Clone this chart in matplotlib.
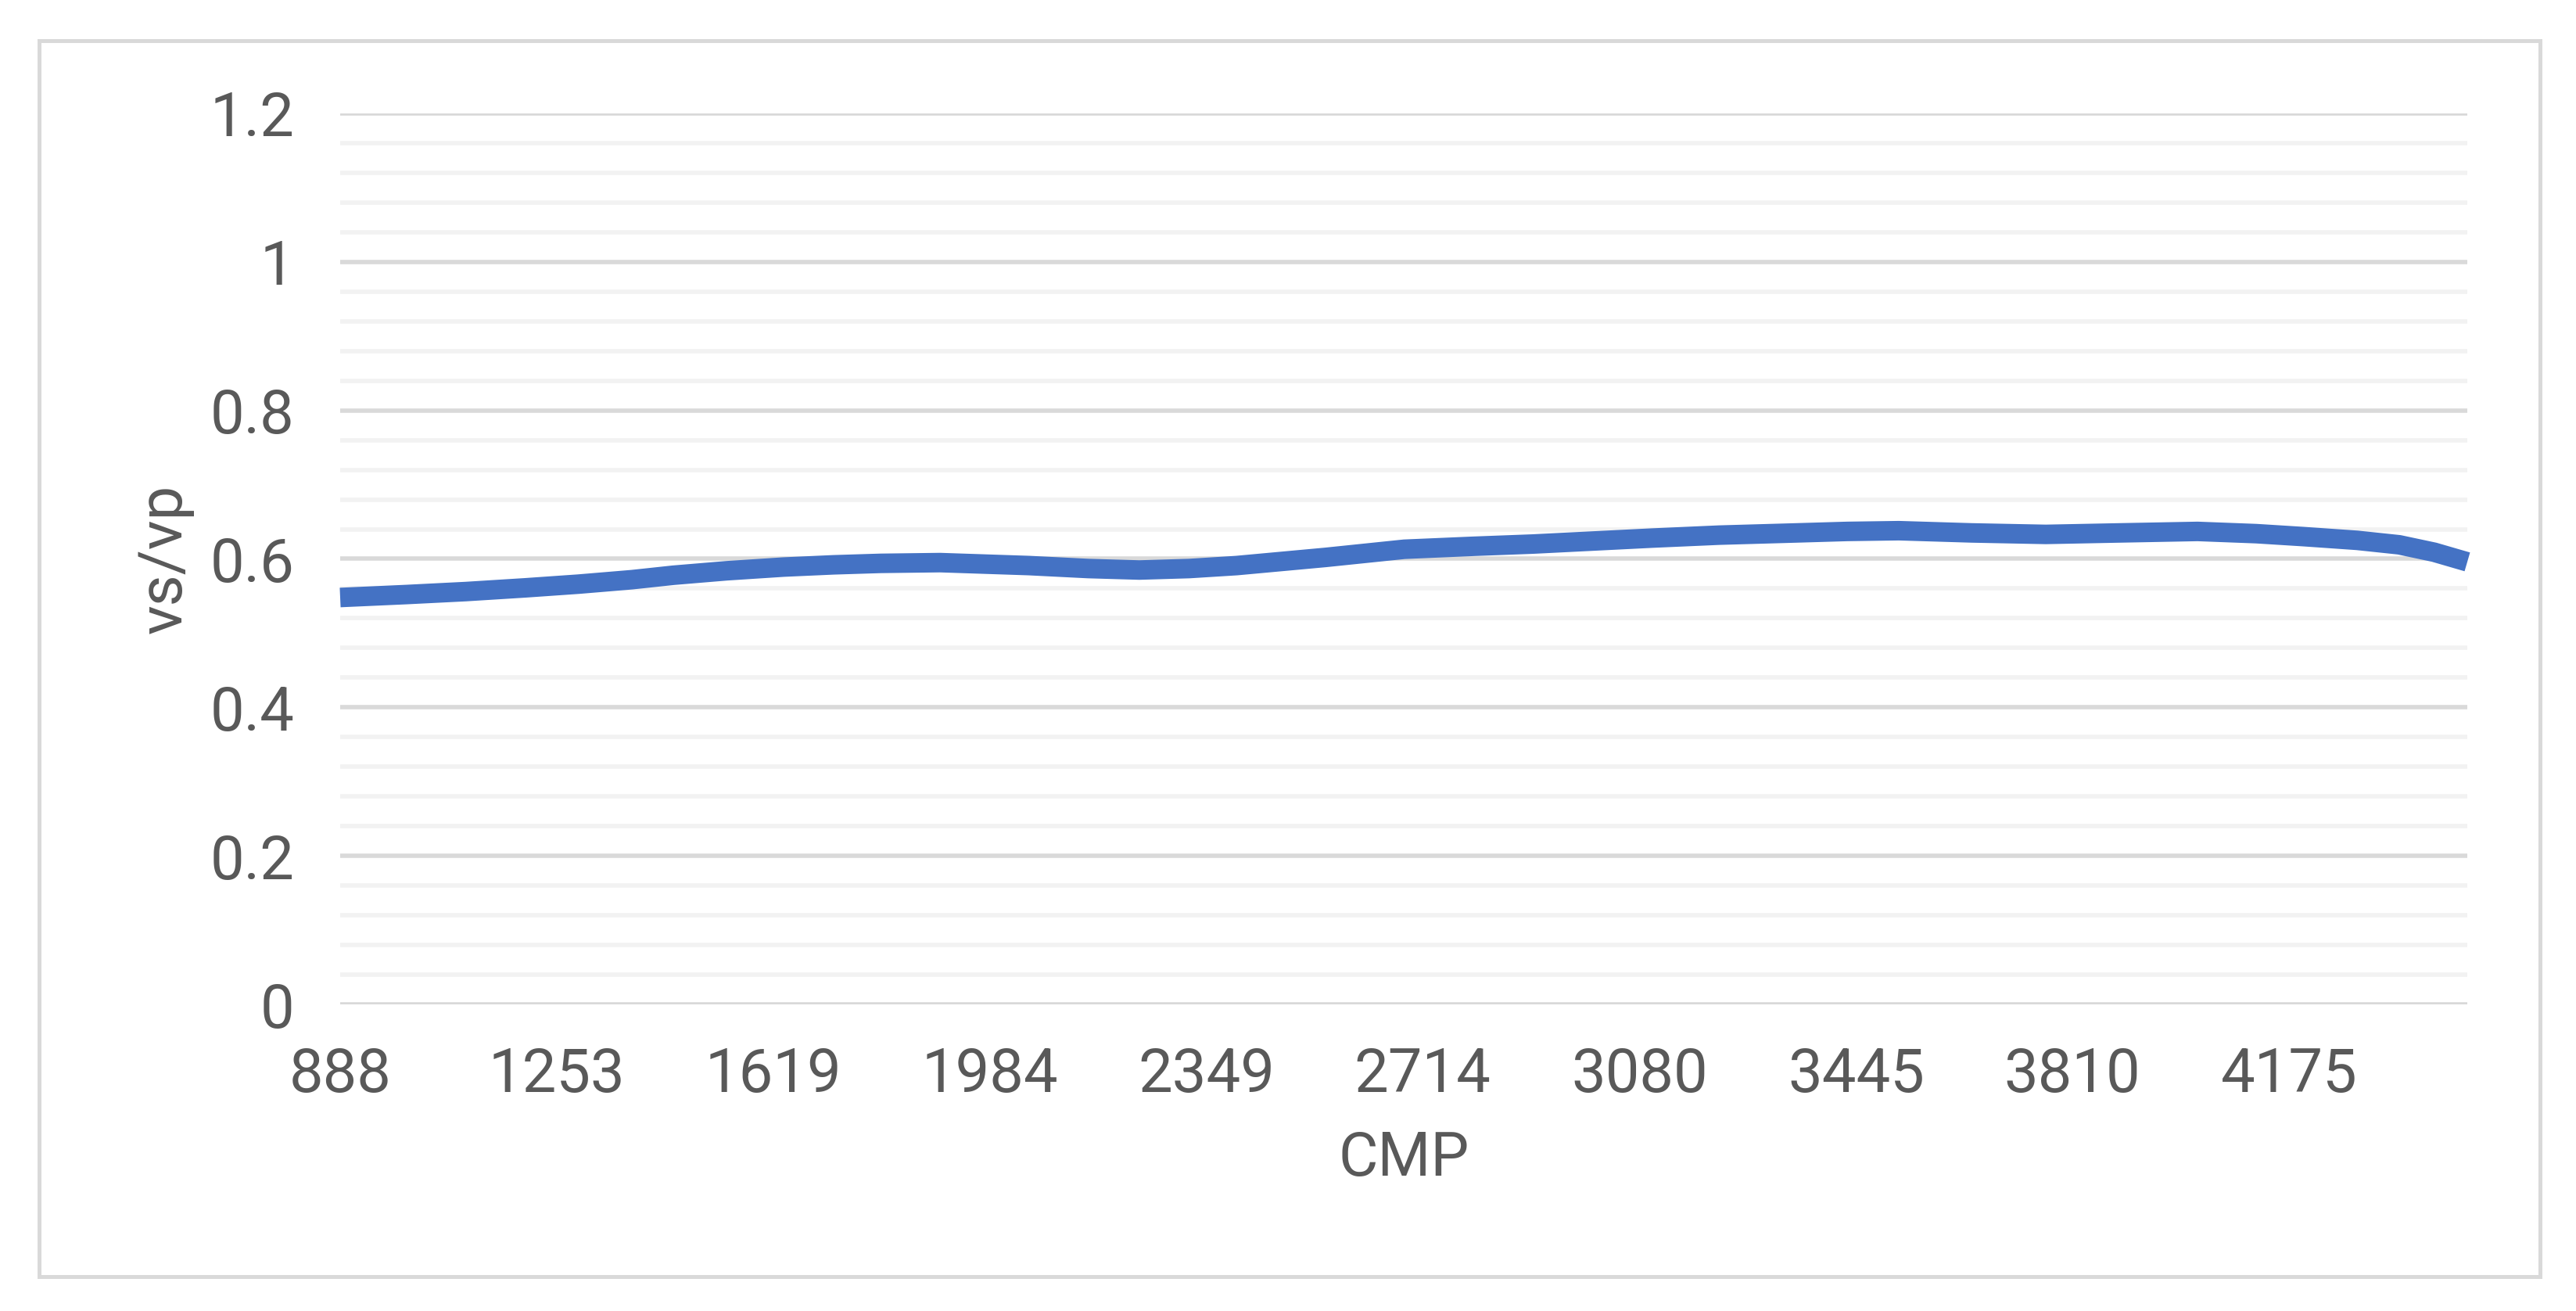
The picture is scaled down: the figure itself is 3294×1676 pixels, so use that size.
import matplotlib
matplotlib.use("Agg")
import matplotlib.pyplot as plt
from matplotlib.patches import Rectangle
from matplotlib.ticker import MultipleLocator, FixedLocator

# ---- data ----
cmp_vals = [888, 1000, 1100, 1200, 1290, 1380, 1450, 1540, 1636, 1720, 1800, 1900,
            2050, 2150, 2236, 2320, 2400, 2550, 2683, 2800, 2900, 3000, 3100, 3214,
            3345, 3430, 3517, 3640, 3765, 3890, 4021, 4120, 4200, 4290, 4361, 4420, 4476]
vs_vp = [0.548, 0.552, 0.556, 0.561, 0.566, 0.572, 0.578, 0.584, 0.589, 0.592,
         0.594, 0.595, 0.591, 0.587, 0.585, 0.587, 0.591, 0.602, 0.613, 0.617,
         0.620, 0.624, 0.628, 0.632, 0.635, 0.637, 0.638, 0.635, 0.633, 0.635,
         0.637, 0.634, 0.630, 0.625, 0.619, 0.609, 0.596]
xtick_labels = [888, 1253, 1619, 1984, 2349, 2714, 3080, 3445, 3810, 4175]
ytick_vals = [0, 0.2, 0.4, 0.6, 0.8, 1.0, 1.2]
ytick_labels = ["0", "0.2", "0.4", "0.6", "0.8", "1", "1.2"]

plt.rcParams["font.family"] = ["Roboto", "Liberation Sans", "DejaVu Sans"]

W, H, DPI = 3294, 1676, 200
fig = plt.figure(figsize=(W / DPI, H / DPI), dpi=DPI)
fig.patch.set_facecolor("white")

# outer chart border
fig.patches.append(Rectangle((50 / W, 1 - 1632 / H), (3248 - 50) / W, (1632 - 52) / H,
                             transform=fig.transFigure, fill=False,
                             edgecolor="#D9D9D9", linewidth=1.8, zorder=0))

ax = fig.add_axes([435 / W, 1 - 1284 / H, (3155 - 435) / W, (1284 - 145) / H])
ax.set_xlim(888, 4476)
ax.set_ylim(0, 1.2)

ax.yaxis.set_major_locator(FixedLocator(ytick_vals))
ax.yaxis.set_minor_locator(MultipleLocator(0.04))
ax.set_yticklabels(ytick_labels)
ax.xaxis.set_major_locator(FixedLocator(xtick_labels))
ax.set_xticklabels([str(v) for v in xtick_labels])

ax.grid(which="major", axis="y", color="#D9D9D9", linewidth=2.0, zorder=1)
ax.grid(which="minor", axis="y", color="#F2F2F2", linewidth=2.0, zorder=1)
ax.set_axisbelow(True)
for s in ax.spines.values():
    s.set_visible(False)
ax.tick_params(axis="both", which="both", length=0, labelsize=28, labelcolor="#595959")
ax.tick_params(axis="y", pad=21)
ax.tick_params(axis="x", pad=19)

ax.plot(cmp_vals, vs_vp, color="#4472C4", linewidth=9.0, solid_joinstyle="round",
        solid_capstyle="butt", zorder=3, clip_on=False)

fig.text(210 / W, 1 - 714 / H, "vs/vp", rotation=90, ha="center", va="center",
         fontsize=28, color="#595959")
fig.text(1795 / W, 1 - 1481 / H, "CMP", ha="center", va="center",
         fontsize=28, color="#595959")

fig.savefig("out.png", dpi=DPI, facecolor="white")
